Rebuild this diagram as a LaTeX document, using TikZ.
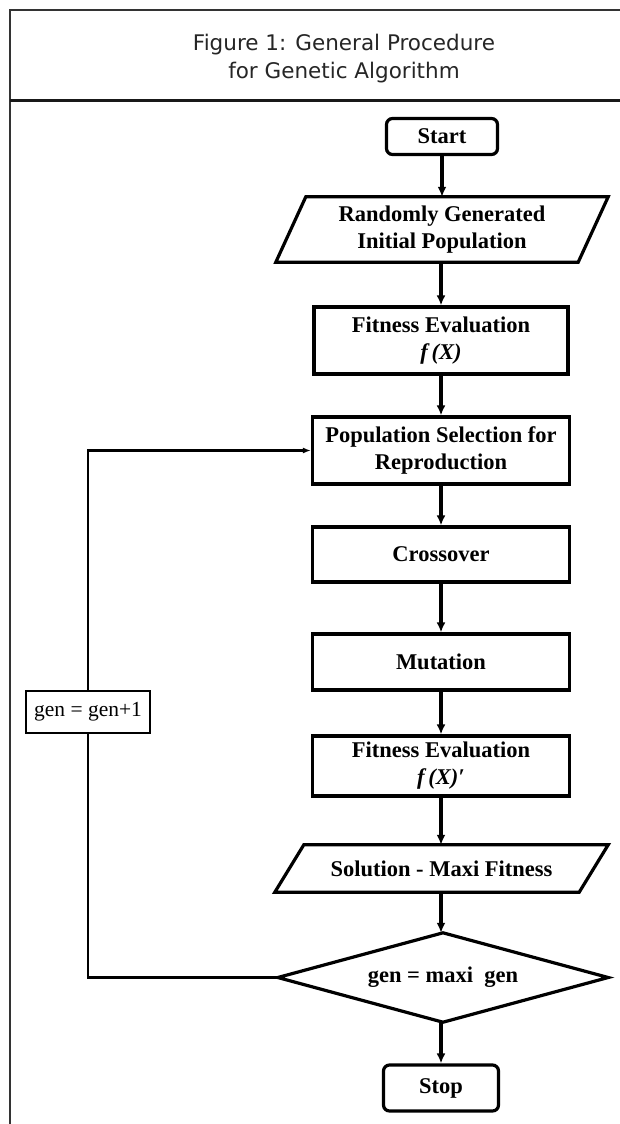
\documentclass[tikz,border=0pt]{standalone}
\usepackage{fontspec}
\setmainfont{Liberation Serif}
\newfontfamily\titlefont{DejaVu Sans}
\usetikzlibrary{arrows.meta,calc}
\begin{document}
\begin{tikzpicture}[x=1pt,y=-1pt,
  box/.style={draw, line width=3.2pt, align=center, fill=white,
    font=\fontsize{22.5}{27}\selectfont\bfseries, inner sep=0pt},
  ghost/.style={align=center, inner sep=0pt,
    font=\fontsize{22.5}{27}\selectfont\bfseries},
  shapeline/.style={line width=3.2pt, line join=miter, fill=white},
  arr/.style={line width=3.6pt, -{Latex[length=10pt,width=9pt]}},
  loopline/.style={line width=2.4pt},
  framelinex/.style={line width=2pt, draw=black!80},
]
\useasboundingbox (0,0) rectangle (620,1124);
\fill[white] (0,0) rectangle (620,1124);
% frame
\draw[framelinex] (10,1124) -- (10,10) -- (620,10);
\draw[line width=3pt, draw=black!90] (10,100) -- (620,100);
\node[font=\titlefont\fontsize{21.5}{28}\selectfont, align=center, text=black!85] (title) at (344,59)
  {Figure 1: General Procedure\\for Genetic Algorithm};

% nodes
\node[box, rounded corners=6pt, minimum width=111pt, minimum height=36pt] (start) at (442,136.5) {Start};

\node[ghost, minimum width=332pt, minimum height=65pt] (init) at (442,229.5) {};
\draw[shapeline] ($(init.north west)+(30,0)$) -- (init.north east) -- ($(init.south east)+(-30,0)$) -- (init.south west) -- cycle;
\node[ghost] at (init) {Randomly Generated\\Initial Population};

\node[box, minimum width=254pt, minimum height=67pt] (fit1) at (441,340.5) {Fitness Evaluation\\\textit{f\,(X)}};
\node[box, minimum width=257pt, minimum height=67pt] (pop) at (441,450.5) {Population Selection for\\Reproduction};
\node[box, minimum width=257pt, minimum height=55pt] (cross) at (441,554.5) {Crossover};
\node[box, minimum width=257pt, minimum height=56pt] (mut) at (441,662) {Mutation};
\node[box, minimum width=257pt, minimum height=60pt] (fit2) at (441,766) {Fitness Evaluation\\\textit{f\,(X)′}};

\node[ghost, minimum width=333pt, minimum height=47pt] (sol) at (441.5,868.5) {};
\draw[shapeline] ($(sol.north west)+(29,0)$) -- (sol.north east) -- ($(sol.south east)+(-29,0)$) -- (sol.south west) -- cycle;
\node[ghost] at (sol) {Solution - Maxi Fitness};

\node[ghost, minimum width=330pt, minimum height=89pt] (dec) at (443,977.5) {};
\draw[shapeline] (dec.north) -- (dec.east) -- (dec.south) -- (dec.west) -- cycle;
\node[ghost] at (dec) {gen = maxi\ \ gen};

\node[box, rounded corners=6pt, minimum width=115pt, minimum height=46pt] (stop) at (441,1088) {Stop};

\node[box, font=\fontsize{21.5}{24}\selectfont, line width=2.6pt, minimum width=124pt, minimum height=42pt] (gen) at (88,712) {gen = gen+1};

% connectors
\draw[arr] (start.south) -- (init.north -| start.south);
\draw[arr] (init.south -| fit1.north) -- (fit1.north);
\draw[arr] (fit1) -- (pop);
\draw[arr] (pop) -- (cross);
\draw[arr] (cross) -- (mut);
\draw[arr] (mut) -- (fit2);
\draw[arr] (fit2.south) -- (sol.north -| fit2.south);
\draw[arr] (sol.south -| fit2.south) -- (dec.north -| fit2.south);
\draw[arr] (dec.south -| stop.north) -- (stop.north);
\draw[loopline] (dec.west) -| (gen.south);
\draw[loopline, -{Latex[length=8pt,width=6pt]}] (gen.north) |- (pop.west);
\end{tikzpicture}
\end{document}
